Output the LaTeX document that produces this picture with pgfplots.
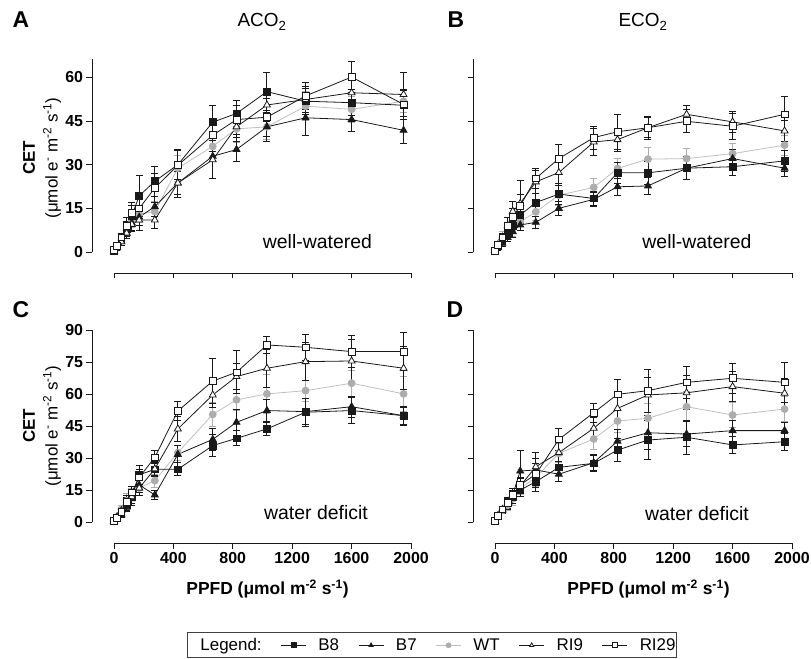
\documentclass[border=0pt]{standalone}
\usepackage{fontspec}
\setmainfont{Liberation Sans}
\usepackage{pgfplots}
\usepackage{pgfplotstable}
\pgfplotsset{compat=1.18}

\pgfplotstableread{
x b8 b8e b7 b7e wt wte r9 r9e r29 r29e
0 0.5 0.5 0.3 0.4 0.4 0.4 0.3 0.4 0.6 0.5
20 2.0 1.0 1.5 0.8 1.8 0.8 1.5 0.8 2.2 1.0
50 4.5 1.5 3.5 1.2 4.0 1.2 3.5 1.2 5.0 1.5
85 8.0 2.5 6.5 2.0 7.5 2.0 6.5 2.0 9.0 3.0
120 12.5 3.5 10.0 2.5 11.0 2.5 9.5 2.5 13.5 3.5
170 19.3 7.0 12.0 3.0 13.0 3.0 11.0 3.5 15.0 4.5
275 24.3 5.2 15.6 3.5 13.9 3.5 11.0 3.0 22.0 5.0
430 30.0 5.2 23.7 4.0 28.8 4.5 23.7 5.0 29.8 5.0
665 44.6 5.7 32.9 7.5 36.3 5.0 31.7 6.5 40.1 5.5
825 47.6 4.5 35.2 4.0 42.3 4.5 43.0 5.0 45.5 5.0
1030 55.1 6.5 43.0 5.0 43.0 4.5 50.5 5.5 46.3 6.5
1290 51.8 4.5 46.1 6.0 50.1 5.0 52.4 4.5 53.6 4.5
1600 51.3 4.5 45.5 4.0 49.0 4.5 54.7 4.5 60.1 5.2
1950 50.4 5.0 41.8 4.6 51.8 4.0 54.1 7.5 50.7 5.0
}\tabA

\pgfplotstableread{
x b8 b8e b7 b7e wt wte r9 r9e r29 r29e
0 0.5 0.4 0.3 0.3 0.5 0.4 0.5 0.4 0.5 0.4
20 2.0 0.8 1.5 0.8 2.5 1.0 2.5 1.0 2.5 1.0
50 4.0 1.2 3.0 1.0 5.0 2.0 5.0 1.5 5.0 1.5
85 6.5 2.0 5.0 1.5 7.0 2.5 9.0 3.0 9.0 3.0
120 9.0 2.5 7.0 2.0 8.0 2.5 14.0 3.5 12.0 3.0
170 12.7 3.0 9.3 2.0 10.4 3.0 16.7 8.0 15.9 4.0
275 17.0 3.0 10.2 2.0 13.8 3.0 24.1 4.0 25.3 3.5
430 19.9 3.5 15.0 2.5 19.5 3.5 27.3 4.5 32.1 5.0
665 18.4 2.5 18.1 2.5 22.2 3.0 37.8 4.5 39.3 4.0
825 27.2 3.5 22.4 3.0 28.7 3.5 38.6 4.0 41.3 6.0
1030 27.2 4.0 22.7 3.0 31.9 4.0 42.7 4.0 42.7 3.5
1290 28.8 4.0 28.8 4.0 32.1 3.5 47.3 3.0 44.9 4.0
1600 29.3 3.0 32.1 3.0 33.8 3.5 44.7 3.5 43.2 4.5
1950 31.3 3.5 28.8 3.0 36.7 3.5 41.6 3.5 47.3 6.0
}\tabB

\pgfplotstableread{
x b8 b8e b7 b7e wt wte r9 r9e r29 r29e
0 0.5 0.4 0.5 0.4 0.5 0.4 0.5 0.4 0.5 0.4
20 2.0 0.8 1.5 0.8 2.5 1.0 2.5 1.0 2.0 1.0
50 4.5 1.5 3.5 1.2 6.0 2.0 5.5 1.5 5.0 1.5
85 8.0 2.5 7.0 2.0 10.0 3.5 9.0 2.5 9.5 3.0
120 12.0 3.0 11.0 3.0 13.0 3.0 12.0 3.0 14.0 3.0
170 22.2 4.5 17.5 3.5 16.0 3.5 16.0 3.5 21.0 3.5
275 24.8 3.0 12.8 2.0 19.5 3.0 25.0 3.5 30.4 3.0
430 24.8 3.0 31.8 4.0 32.6 3.5 43.7 6.0 52.1 4.5
665 35.9 5.0 38.8 5.0 50.5 5.5 59.6 6.0 66.1 10.5
825 39.3 3.5 46.8 6.0 57.3 5.0 68.2 6.0 70.2 10.0
1030 43.7 3.0 52.3 5.0 60.1 9.0 72.1 9.0 83.0 4.0
1290 51.5 6.5 51.8 6.0 61.6 5.0 75.2 9.0 81.9 6.0
1600 52.3 6.0 54.1 5.0 65.1 6.0 75.5 10.0 79.9 7.5
1950 49.9 4.5 49.9 4.0 60.1 8.0 72.1 10.0 79.9 9.0
}\tabC

\pgfplotstableread{
x b8 b8e b7 b7e wt wte r9 r9e r29 r29e
0 0.5 0.4 0.5 0.4 0.5 0.4 0.5 0.4 0.5 0.4
20 3.0 1.0 3.0 1.0 3.0 1.0 3.0 1.0 3.0 1.0
50 6.0 1.5 6.0 1.5 5.5 1.5 5.5 1.5 6.0 1.5
85 9.0 2.5 9.0 2.5 8.0 2.5 8.5 2.5 9.0 2.5
120 12.0 3.0 13.0 3.0 11.0 3.0 12.0 3.0 13.0 3.0
170 15.1 3.0 24.0 9.5 16.0 3.0 17.0 3.5 17.5 3.5
275 19.0 4.5 24.5 8.0 21.0 4.0 26.0 4.0 22.5 5.0
430 25.7 3.0 22.5 3.5 32.3 4.5 32.6 6.5 38.8 5.0
665 27.6 3.5 27.9 4.0 39.0 5.0 44.0 5.0 51.3 4.5
825 33.8 5.5 38.0 5.5 47.4 5.5 53.3 6.0 59.9 7.0
1030 38.5 9.0 41.9 8.0 48.7 7.0 59.6 8.0 61.6 10.0
1290 39.8 8.0 41.3 6.0 54.1 7.0 60.6 8.0 65.5 7.5
1600 36.2 4.0 42.9 5.0 50.2 6.0 63.5 7.0 67.4 7.0
1950 37.7 4.0 42.9 4.0 53.0 6.0 60.4 7.0 65.5 9.5
}\tabD

\definecolor{ink}{gray}{0.1}
\definecolor{wtline}{gray}{0.75}
\definecolor{wtmark}{gray}{0.68}

\tikzset{axl/.style={ink, line width=0.9bp}}

\pgfplotsset{
  panel/.style={
    scale only axis, width=319bp, clip=false, anchor=south west,
    axis lines*=left, axis line style={draw=none},
    tick align=outside, major tick length=5.5bp,
    tick style={ink, line width=0.9bp},
    xmin=-148, xmax=2000, xtick={0,400,...,2000},
    ticklabel style={font=\fontsize{16}{18}\selectfont\bfseries},
    /pgf/number format/assume math mode=true,
    /pgf/number format/set thousands separator={},
    every axis plot/.append style={line width=0.8bp},
    error bars/y dir=both, error bars/y explicit,
    error bars/error bar style={line width=0.9bp},
    error bars/error mark options={rotate=90, mark size=3.5bp, line width=0.9bp},
  },
  sB8/.style={ink, mark=square*, mark size=3.4bp, mark options={fill=ink, solid}},
  sB7/.style={ink, mark=triangle*, mark size=4bp, mark options={fill=ink, solid}},
  sWT/.style={wtline, mark=*, mark size=3.5bp, mark options={fill=wtmark, draw=wtmark}, error bars/error bar style={wtmark, line width=0.9bp}},
  sR9/.style={ink, mark=triangle*, mark size=4bp, mark options={fill=white, solid}},
  sR29/.style={ink, mark=square*, mark size=3.4bp, mark options={fill=white, solid}},
}

\newcommand{\allplots}[1]{%
  \addplot[sWT] table[x=x,y=wt,y error=wte]{#1};
  \addplot[sB8] table[x=x,y=b8,y error=b8e]{#1};
  \addplot[sB7] table[x=x,y=b7,y error=b7e]{#1};
  \addplot[sR9] table[x=x,y=r9,y error=r9e]{#1};
  \addplot[sR29] table[x=x,y=r29,y error=r29e]{#1};
}

\begin{document}
\begin{tikzpicture}
\useasboundingbox (0,0) rectangle (811bp,659bp);

% Panel A
\begin{axis}[panel, at={(92bp,386bp)}, height=214bp, ymin=-7.2, ymax=66.3,
  ytick={0,15,...,60}, xticklabels={}]
\allplots{\tabA}
\draw[axl] (axis cs:-148,0) -- (axis cs:-148,66.3);
\draw[axl] (axis cs:0,-7.2) -- (axis cs:2000,-7.2);
\node[anchor=base, font=\fontsize{19.5}{21}\selectfont] at (axis cs:1370,1.3) {well-watered};
\end{axis}

% Panel B
\begin{axis}[panel, at={(473bp,386bp)}, height=214bp, ymin=-7.2, ymax=66.3,
  ytick={0,15,...,60}, xticklabels={}, yticklabels={}]
\allplots{\tabB}
\draw[axl] (axis cs:-148,0) -- (axis cs:-148,66.3);
\draw[axl] (axis cs:0,-7.2) -- (axis cs:2000,-7.2);
\node[anchor=base, font=\fontsize{19.5}{21}\selectfont] at (axis cs:1360,1.3) {well-watered};
\end{axis}

% Panel C
\begin{axis}[panel, at={(92bp,115.7bp)}, height=213.3bp, ymin=-9.83, ymax=90,
  ytick={0,15,...,90}]
\allplots{\tabC}
\draw[axl] (axis cs:-148,0) -- (axis cs:-148,90);
\draw[axl] (axis cs:0,-9.83) -- (axis cs:2000,-9.83);
\node[anchor=base, font=\fontsize{19.5}{21}\selectfont] at (axis cs:1360,1.1) {water deficit};
\end{axis}

% Panel D
\begin{axis}[panel, at={(473bp,115.7bp)}, height=213.3bp, ymin=-9.83, ymax=90,
  ytick={0,15,...,90}, yticklabels={}]
\allplots{\tabD}
\draw[axl] (axis cs:-148,0) -- (axis cs:-148,90);
\draw[axl] (axis cs:0,-9.83) -- (axis cs:2000,-9.83);
\node[anchor=base, font=\fontsize{19.5}{21}\selectfont] at (axis cs:1360,0.8) {water deficit};
\end{axis}

% Legend
\begin{axis}[hide axis, scale only axis, width=811bp, height=659bp, at={(0bp,0bp)}, anchor=south west,
  xmin=0, xmax=1, ymin=0, ymax=1,
  legend columns=6,
  legend image code/.code={\draw[mark repeat=2,mark phase=2,#1] plot coordinates {(0bp,0bp) (12.5bp,0bp) (25bp,0bp)};},
  legend image post style={mark size=2.4bp, line width=0.8bp},
  legend style={at={(0.2306,0.0405)}, anchor=north west, draw=black!75, line width=0.8bp,
    font=\fontsize{17}{19}\selectfont, inner xsep=1bp, inner ysep=4.7bp,
    /tikz/every odd column/.append style={column sep=12bp},
    /tikz/every even column/.append style={column sep=19bp},
    nodes={inner xsep=0bp, inner ysep=1bp}},
  legend cell align=left]
\addlegendimage{empty legend}\addlegendentry{Legend:}
\addlegendimage{sB8}\addlegendentry{B8}
\addlegendimage{sB7}\addlegendentry{B7}
\addlegendimage{sWT}\addlegendentry{WT}
\addlegendimage{sR9}\addlegendentry{RI9}
\addlegendimage{sR29}\addlegendentry{RI29}
\end{axis}

% Labels
\node[anchor=base west, font=\fontsize{23}{26}\selectfont\bfseries] at (9bp,631bp) {A};
\node[anchor=base west, font=\fontsize{23}{26}\selectfont\bfseries] at (444bp,631bp) {B};
\node[anchor=base west, font=\fontsize{23}{26}\selectfont\bfseries] at (9bp,341bp) {C};
\node[anchor=base west, font=\fontsize{23}{26}\selectfont\bfseries] at (443bp,341bp) {D};
\node[anchor=base, font=\fontsize{19}{21}\selectfont] at (262bp,632bp) {ACO\textsubscript{2}};
\node[anchor=base, font=\fontsize{19}{21}\selectfont] at (643bp,632bp) {ECO\textsubscript{2}};
\foreach \yy in {501,233}{
  \node[rotate=90, font=\fontsize{17}{19}\selectfont\bfseries] at (29bp,\yy bp) {CET};
  \node[rotate=90, font=\fontsize{17}{19}\selectfont] at (52bp,\yy bp) {(μmol e\textsuperscript{-} m\textsuperscript{-2} s\textsuperscript{-1})};
}
\node[anchor=base, font=\fontsize{17.5}{19}\selectfont\bfseries] at (267.5bp,64bp) {PPFD (μmol m\textsuperscript{-2} s\textsuperscript{-1})};
\node[anchor=base, font=\fontsize{17.5}{19}\selectfont\bfseries] at (648.5bp,64bp) {PPFD (μmol m\textsuperscript{-2} s\textsuperscript{-1})};
\end{tikzpicture}
\end{document}
